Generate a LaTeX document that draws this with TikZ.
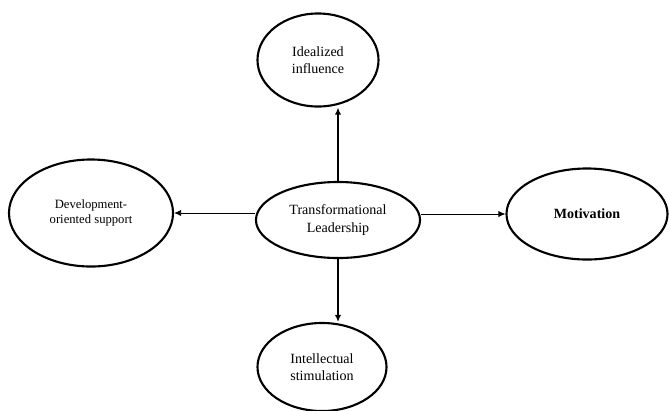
\documentclass[tikz,border=0pt]{standalone}
\usepackage{fontspec}
\setmainfont{Liberation Serif}
\usetikzlibrary{shapes.geometric, arrows.meta}

\begin{document}
\begin{tikzpicture}[
    x=0.025cm, y=-0.025cm,
    oval/.style={draw, ellipse, line width=1.5pt, align=center, inner sep=0pt,
        font=\fontsize{10}{12.5}\selectfont},
    link/.style={-{Latex[length=5pt, width=4.5pt]}}
]
    \useasboundingbox (0,0) rectangle (669,410);

    % the centre and the four components
    \node[oval, minimum width=4.1cm, minimum height=1.9cm] (lead) at (338,220)
        {Transformational\\Leadership};
    \node[oval, minimum width=3.025cm, minimum height=2.325cm] (infl) at (318,60)
        {Idealized\\influence};
    \node[oval, minimum width=4.1cm, minimum height=2.675cm,
        font=\fontsize{9}{11}\selectfont] (dev) at (91,213)
        {Development-\\oriented support};
    \node[oval, minimum width=4.025cm, minimum height=2.275cm] (mot) at (587,214)
        {\textbf{Motivation}};
    \node[oval, minimum width=3.225cm, minimum height=2.2cm] (stim) at (322,367)
        {Intellectual\\stimulation};

    % arrows
    \draw[link, line width=1.2pt] (lead.north) -- (lead.north |- infl.south);
    \draw[link, line width=1.2pt] (lead.south) -- (lead.south |- stim.north);
    \draw[link, line width=0.6pt] (lead.west |- dev.east) -- (dev.east);
    \draw[link, line width=0.6pt] (lead.east |- mot.west) -- (mot.west);
\end{tikzpicture}
\end{document}
